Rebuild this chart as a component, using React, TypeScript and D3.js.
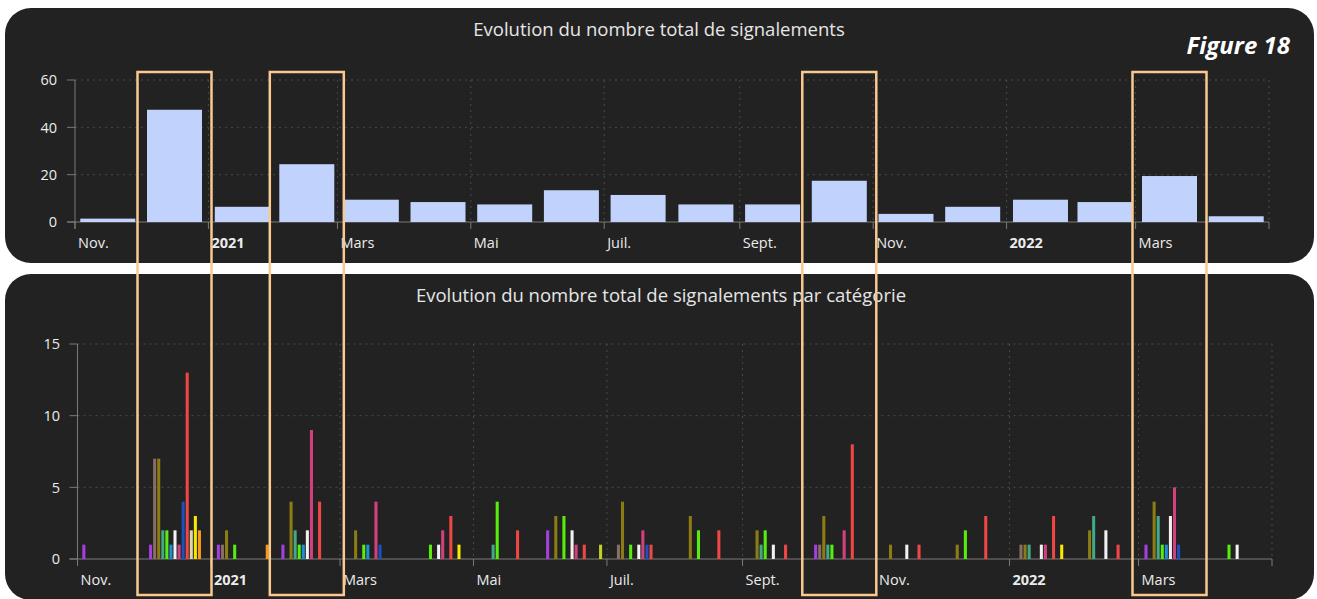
import React from 'react';
import * as d3 from 'd3';

const W = 1317;
const H = 599;

// Months (one bar group per month)
const months = [
  '2020-11', '2020-12', '2021-01', '2021-02', '2021-03', '2021-04', '2021-05', '2021-06', '2021-07',
  '2021-08', '2021-09', '2021-10', '2021-11', '2021-12', '2022-01', '2022-02', '2022-03', '2022-04',
];

// Total number of reports per month (top chart)
const totals = [1, 47, 6, 24, 9, 8, 7, 13, 11, 7, 7, 17, 3, 6, 9, 8, 19, 2];

// Per-category monthly values (bottom chart)
const catViolet = [1, 1, 1, 1, 0, 0, 0, 2, 0, 0, 0, 1, 0, 0, 0, 0, 1, 0];
const catBrun = [0, 7, 1, 0, 0, 0, 0, 0, 1, 0, 0, 1, 0, 0, 1, 0, 0, 0];
const catOlive = [0, 7, 2, 4, 2, 0, 0, 3, 4, 3, 2, 3, 1, 1, 1, 2, 4, 0];
const catTurquoise = [0, 2, 0, 2, 0, 0, 1, 0, 0, 0, 1, 1, 0, 0, 1, 3, 3, 0];
const catVert = [0, 2, 1, 1, 1, 1, 4, 3, 1, 2, 2, 1, 0, 2, 0, 0, 1, 1];
const catBleuClair = [0, 1, 0, 1, 1, 0, 0, 0, 0, 0, 0, 0, 0, 0, 0, 0, 1, 0];
const catBlanc = [0, 2, 0, 2, 0, 1, 0, 2, 1, 0, 1, 0, 1, 0, 1, 2, 3, 1];
const catRose = [0, 1, 0, 9, 4, 2, 0, 1, 2, 0, 0, 2, 0, 0, 1, 0, 5, 0];
const catBleuFonce = [0, 4, 0, 0, 1, 0, 0, 0, 1, 0, 0, 0, 0, 0, 0, 0, 1, 0];
const catRouge = [0, 13, 0, 4, 0, 3, 2, 1, 1, 2, 1, 8, 1, 3, 3, 1, 0, 0];
const catBeige = [0, 2, 0, 0, 0, 0, 0, 0, 0, 0, 0, 0, 0, 0, 0, 0, 0, 0];
const catJaune = [0, 3, 0, 0, 0, 1, 0, 0, 0, 0, 0, 0, 0, 0, 1, 0, 0, 0];
const catOrange = [0, 2, 1, 0, 0, 0, 0, 0, 0, 0, 0, 0, 0, 0, 0, 0, 0, 0];
const catJauneVert = [0, 0, 0, 0, 0, 0, 0, 1, 0, 0, 0, 0, 0, 0, 0, 0, 0, 0];

const categoryKeys = [
  'violet', 'brun', 'olive', 'turquoise', 'vert', 'bleuClair', 'blanc',
  'rose', 'bleuFonce', 'rouge', 'beige', 'jaune', 'orange', 'jauneVert',
];
const categoryColors = [
  '#a43fe0', '#8c6c66', '#8c7c12', '#42a88a', '#58ee0c', '#1d8fd2', '#f2f2f2',
  '#d4407e', '#1a50c0', '#f04646', '#ddd6aa', '#f8e800', '#fa9a18', '#c4d020',
];
const categoryValues = [
  catViolet, catBrun, catOlive, catTurquoise, catVert, catBleuClair, catBlanc,
  catRose, catBleuFonce, catRouge, catBeige, catJaune, catOrange, catJauneVert,
];

// Axis ticks
const tickDates = [
  '2020-11-01', '2021-01-01', '2021-03-01', '2021-05-01', '2021-07-01',
  '2021-09-01', '2021-11-01', '2022-01-01', '2022-03-01', '2022-05-01',
];
const tickLabels = ['Nov.', '2021', 'Mars', 'Mai', 'Juil.', 'Sept.', 'Nov.', '2022', 'Mars', ''];
const topYTicks = [0, 20, 40, 60];
const bottomYTicks = [0, 5, 10, 15];

// Highlighted months (orange frames)
const highlighted = ['2020-12', '2021-02', '2021-10', '2022-03'];

const parseMonth = d3.timeParse('%Y-%m');
const parseDay = d3.timeParse('%Y-%m-%d');
const domain: [Date, Date] = [parseDay('2020-11-01')!, parseDay('2022-05-01')!];

function monthMid(m: string): Date {
  const s = parseMonth(m)!;
  const e = d3.timeMonth.offset(s, 1);
  return new Date((+s + +e) / 2);
}

const FONT = "'Open Sans', 'Noto Sans', sans-serif";
const AXIS = '#7a7a7a';
const GRID = '#4a4a4a';
const TXT = '#ececec';

function Axes({ x, y, yTicks, labelY, yLabelRight }: any) {
  const [x0, x1] = x.range();
  const [yb, yt] = y.range();
  return (
    <g>
      {yTicks.filter((t: number) => t !== 0).map((t: number) => (
        <line key={'hg' + t} x1={x0} x2={x1} y1={y(t)} y2={y(t)} stroke={GRID} strokeDasharray="2,4" />
      ))}
      {tickDates.slice(1).map((d) => (
        <line key={'vg' + d} x1={x(parseDay(d))} x2={x(parseDay(d))} y1={yt} y2={yb} stroke={GRID} strokeDasharray="2,4" />
      ))}
      <line x1={x0} x2={x0} y1={yt} y2={yb + 7} stroke={AXIS} />
      {yTicks.map((t: number) => (
        <g key={'yt' + t}>
          <line x1={x0 - 8} x2={x0} y1={y(t)} y2={y(t)} stroke={AXIS} />
          <text x={yLabelRight} y={y(t)} dy="0.36em" textAnchor="end" fill={TXT} fontSize={14.5} fontFamily={FONT}>{t}</text>
        </g>
      ))}
      <line x1={x0 - 8} x2={x1} y1={yb} y2={yb} stroke={AXIS} />
      {tickDates.map((d, i) => {
        const xx = x(parseDay(d));
        const bold = /^\d{4}$/.test(tickLabels[i]);
        return (
          <g key={'xt' + d}>
            <line x1={xx} x2={xx} y1={yb} y2={yb + 7} stroke={AXIS} />
            <text x={xx + 3} y={labelY} fill={TXT} fontSize={14.5} fontWeight={bold ? 700 : 400} fontFamily={FONT}>{tickLabels[i]}</text>
          </g>
        );
      })}
    </g>
  );
}

export default function App() {
  const xTop = d3.scaleTime().domain(domain).range([75, 1269]);
  const yTop = d3.scaleLinear().domain([0, 60]).range([222, 80]);
  const xBot = d3.scaleTime().domain(domain).range([77.5, 1272]);
  const yBot = d3.scaleLinear().domain([0, 15]).range([559, 344]);
  const inner = d3.scaleBand().domain(categoryKeys).range([-28, 28]).paddingInner(0.25);
  const barW = 55;

  return (
    <div style={{ position: 'absolute', left: 0, top: 0 }}>
      <svg width={W} height={H} style={{ display: 'block', background: '#ffffff' }}>
        <rect x={5} y={8} width={1309} height={255} rx={26} fill="#222222" />
        <rect x={5} y={274} width={1309} height={326} rx={26} fill="#222222" />

        <text x={659} y={36} textAnchor="middle" fill="#e6e6e6" fontSize={18.5} fontFamily={FONT}>
          Evolution du nombre total de signalements
        </text>
        <text x={1290} y={54} textAnchor="end" fill="#ffffff" fontSize={24} fontWeight={700} fontStyle="italic" fontFamily={FONT}>
          Figure 18
        </text>
        <text x={661} y={302} textAnchor="middle" fill="#e6e6e6" fontSize={18.5} fontFamily={FONT}>
          Evolution du nombre total de signalements par catégorie
        </text>

        <Axes x={xTop} y={yTop} yTicks={topYTicks} labelY={248} yLabelRight={57} />
        {months.map((m, i) => (
          <rect key={'tb' + m} x={xTop(monthMid(m)) - barW / 2} width={barW}
            y={yTop(totals[i]) - 1} height={yTop(0) - yTop(totals[i]) + 1} fill="#c1d3fc" />
        ))}

        <Axes x={xBot} y={yBot} yTicks={bottomYTicks} labelY={585} yLabelRight={60} />
        {months.map((m, i) => (
          <g key={'bg' + m} transform={`translate(${xBot(monthMid(m))},0)`}>
            {categoryKeys.map((k, c) => {
              const v = categoryValues[c][i];
              if (!v) return null;
              return (
                <rect key={k} x={inner(k)!} width={inner.bandwidth()} y={yBot(v)}
                  height={yBot(0) - yBot(v)} fill={categoryColors[c]} />
              );
            })}
          </g>
        ))}

        {highlighted.map((m) => (
          <rect key={'hl' + m} x={xTop(monthMid(m)) - 37} y={72} width={74} height={523}
            fill="none" stroke="#f9c98e" strokeWidth={2.5} />
        ))}
      </svg>
    </div>
  );
}
